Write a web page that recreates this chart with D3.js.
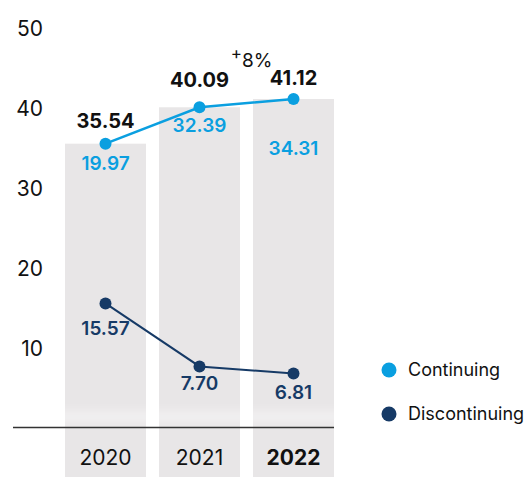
<!DOCTYPE html>
<html>
<head>
<meta charset="utf-8">
<script src="https://cdn.jsdelivr.net/npm/d3@7"></script>
<style>
  body { margin: 0; background: #fff; }
  svg text { font-family: Inter, "Liberation Sans", sans-serif; }
</style>
</head>
<body>
<div id="chart"></div>
<script>
const years = ["2020", "2021", "2022"];
const totals = [35.54, 40.09, 41.12];
const continuing = [19.97, 32.39, 34.31];
const discontinuing = [15.57, 7.70, 6.81];
const yTicks = [10, 20, 30, 40, 50];
const growthLabel = "8%";
const legendNames = ["Continuing", "Discontinuing"];

const width = 527,
    height = 477;

const blue = "#0a9fe0",
    navy = "#163a66",
    barGrey = "#e8e6e7";

const svg = d3.select("#chart").append("svg")
    .attr("width", width)
    .attr("height", height);

const defs = svg.append("defs");
defs.append("filter")
    .attr("id", "glow")
    .attr("x", "-20%").attr("y", "-100%")
    .attr("width", "140%").attr("height", "300%")
    .append("feGaussianBlur")
    .attr("stdDeviation", 4);

const x = d3.scaleBand()
    .domain(years)
    .range([58.5, 340.5])
    .paddingInner(0.138)
    .paddingOuter(0.069);

const y = d3.scaleLinear()
    .domain([0, 50])
    .range([428, 28]);

const cx = function(d, i) { return x(years[i]) + x.bandwidth() / 2; };

//bars, running down past the baseline
svg.selectAll(".bar")
    .data(totals)
    .enter().append("rect")
    .attr("class", "bar")
    .attr("x", function(d, i) { return x(years[i]); })
    .attr("y", function(d) { return y(d); })
    .attr("width", x.bandwidth())
    .attr("height", function(d) { return height - y(d); })
    .style("fill", barGrey);

//faint white glow just above the baseline
svg.append("rect")
    .attr("x", 30)
    .attr("y", y(0) - 18)
    .attr("width", 330)
    .attr("height", 14)
    .style("fill", "#fff")
    .style("opacity", 0.35)
    .attr("filter", "url(#glow)");

//baseline
svg.append("line")
    .attr("x1", 13)
    .attr("x2", x(years[2]) + x.bandwidth())
    .attr("y1", y(0) - 0.5)
    .attr("y2", y(0) - 0.5)
    .style("stroke", "#333")
    .style("stroke-width", 1.5);

//y labels
svg.selectAll(".ylab")
    .data(yTicks)
    .enter().append("text")
    .attr("class", "ylab")
    .attr("x", 43)
    .attr("y", function(d) { return y(d); })
    .attr("dy", "0.36em")
    .style("text-anchor", "end")
    .style("font-size", "21px")
    .style("fill", "#111")
    .text(function(d) { return d; });

//x labels
svg.selectAll(".xlab")
    .data(years)
    .enter().append("text")
    .attr("class", "xlab")
    .attr("x", function(d) { return x(d) + x.bandwidth() / 2; })
    .attr("y", 465)
    .style("text-anchor", "middle")
    .style("font-size", "21px")
    .style("font-weight", function(d, i) { return i === years.length - 1 ? 700 : 400; })
    .style("fill", "#111")
    .text(function(d) { return d; });

const line = d3.line()
    .x(cx)
    .y(function(d) { return y(d); });

//continuing line, drawn on the totals
svg.append("path")
    .datum(totals)
    .attr("d", line)
    .style("fill", "none")
    .style("stroke", blue)
    .style("stroke-width", 2.5);

svg.selectAll(".dotC")
    .data(totals)
    .enter().append("circle")
    .attr("class", "dotC")
    .attr("cx", cx)
    .attr("cy", function(d) { return y(d); })
    .attr("r", 6)
    .style("fill", blue);

//discontinuing line
svg.append("path")
    .datum(discontinuing)
    .attr("d", line)
    .style("fill", "none")
    .style("stroke", navy)
    .style("stroke-width", 2);

svg.selectAll(".dotD")
    .data(discontinuing)
    .enter().append("circle")
    .attr("class", "dotD")
    .attr("cx", cx)
    .attr("cy", function(d) { return y(d); })
    .attr("r", 6)
    .style("fill", navy);

//value labels
const totalDy = [-16, -20, -14],
    contDy = [26, 25, 56],
    discDy = [32, 24, 25];

svg.selectAll(".totLab")
    .data(totals)
    .enter().append("text")
    .attr("class", "totLab")
    .attr("x", cx)
    .attr("y", function(d, i) { return y(d) + totalDy[i]; })
    .style("text-anchor", "middle")
    .style("font-size", "20px")
    .style("font-weight", 700)
    .style("fill", "#111")
    .text(function(d) { return d.toFixed(2); });

svg.selectAll(".contLab")
    .data(continuing)
    .enter().append("text")
    .attr("class", "contLab")
    .attr("x", cx)
    .attr("y", function(d, i) { return y(totals[i]) + contDy[i]; })
    .style("text-anchor", "middle")
    .style("font-size", "19px")
    .style("font-weight", 600)
    .style("fill", blue)
    .text(function(d) { return d.toFixed(2); });

svg.selectAll(".discLab")
    .data(discontinuing)
    .enter().append("text")
    .attr("class", "discLab")
    .attr("x", cx)
    .attr("y", function(d, i) { return y(d) + discDy[i]; })
    .style("text-anchor", "middle")
    .style("font-size", "19px")
    .style("font-weight", 600)
    .style("fill", navy)
    .text(function(d) { return d.toFixed(2); });

//growth annotation
const growth = svg.append("text")
    .attr("x", (cx(null, 1) + cx(null, 2)) / 2 + 5)
    .attr("y", y(d3.max(totals)) - 33)
    .style("text-anchor", "middle")
    .style("font-size", "19px")
    .style("fill", "#111");
growth.append("tspan")
    .attr("dy", "-0.4em")
    .style("font-size", "17px")
    .text("+");
growth.append("tspan")
    .attr("dy", "0.4em")
    .text(growthLabel);

//legend
const legend = svg.selectAll(".legend")
    .data(legendNames)
    .enter().append("g")
    .attr("class", "legend")
    .attr("transform", function(d, i) { return "translate(389," + (370 + i * 44) + ")"; });

legend.append("circle")
    .attr("r", 7.5)
    .style("fill", function(d, i) { return i === 0 ? blue : navy; });

legend.append("text")
    .attr("x", 19)
    .attr("dy", "0.36em")
    .style("font-size", "18px")
    .style("fill", "#111")
    .text(function(d) { return d; });
</script>
</body>
</html>
